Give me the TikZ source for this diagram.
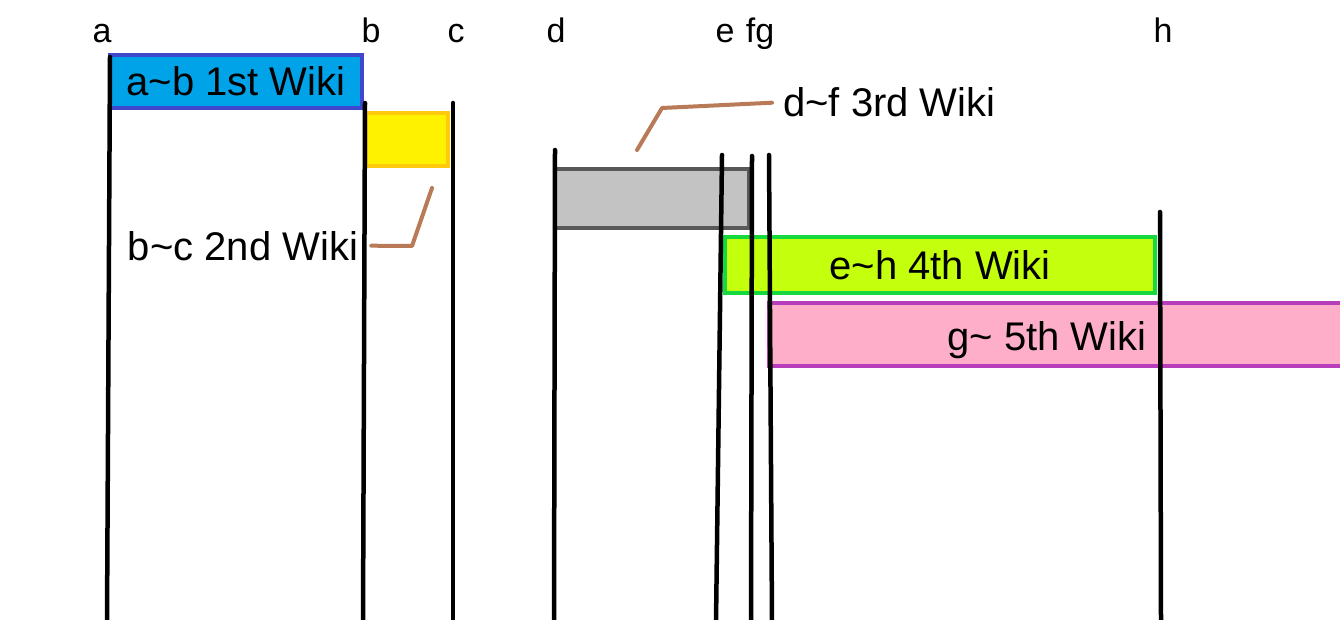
\documentclass[tikz,border=0pt]{standalone}
\usepackage{fontspec}
\setmainfont{Liberation Sans}
\usetikzlibrary{positioning}

\definecolor{oneFill}{HTML}{00A2E8}
\definecolor{oneLine}{HTML}{3F48CC}
\definecolor{twoFill}{HTML}{FFF200}
\definecolor{twoLine}{HTML}{FFC90E}
\definecolor{threeFill}{HTML}{C3C3C3}
\definecolor{threeLine}{HTML}{585858}
\definecolor{fourFill}{HTML}{C4FF0E}
\definecolor{fourLine}{HTML}{15D93F}
\definecolor{fiveFill}{HTML}{FFAEC9}
\definecolor{fiveLine}{HTML}{B83DBA}
\definecolor{leadBrown}{HTML}{B97A57}

\newcommand{\wikifont}{\fontsize{40}{46}\selectfont}

\begin{document}
\begin{tikzpicture}[x=1pt, y=-1pt,
    bar/.style={draw, line width=4pt, inner sep=0pt, font=\wikifont},
    wiki/.style={inner sep=0pt, font=\wikifont},
    tick/.style={inner sep=0pt, anchor=base, font=\fontsize{34}{40}\selectfont},
    vline/.style={line width=4.5pt, line cap=round},
    leader/.style={line width=4pt, leadBrown, line cap=round, line join=round}
]
\useasboundingbox (0,0) rectangle (1340,620);

% wiki bars
\node[bar, draw=oneLine, fill=oneFill, minimum width=252pt, minimum height=53pt] (w1) at (236,81.5) {a\textasciitilde b 1st Wiki};
\node[bar, draw=twoLine, fill=twoFill, minimum width=82pt, minimum height=53pt] (w2) at (407,139.5) {};
\node[bar, draw=threeLine, fill=threeFill, minimum width=194pt, minimum height=59pt] (w3) at (652,198.5) {};
\node[bar, draw=fourLine, fill=fourFill, minimum width=430pt, minimum height=56pt] (w4) at (940,265) {e\textasciitilde h 4th Wiki};
\node[bar, draw=fiveLine, fill=fiveFill, minimum width=581pt, minimum height=63pt] (w5) at (1059.5,334.5) {};
\node[wiki, anchor=base] (t5) at (1047,350) {g\textasciitilde\ 5th Wiki};

% labels with leaders
\node[wiki, anchor=base] (t2) at (243,260) {b\textasciitilde c 2nd Wiki};
\node[wiki, anchor=base west] (t3) at (783,117) {d\textasciitilde f 3rd Wiki};
\coordinate (k2) at (412,246);
\coordinate (p2) at (432,188);
\coordinate (k3) at (662,108);
\coordinate (p3) at (637,150);
\draw[leader] ([xshift=13pt]t2.east) -- (k2) -- (p2);
\draw[leader] ([xshift=-11pt]t3.west) -- (k3) -- (p3);

% time marks
\node[tick] (la) at (102,43) {a};
\node[tick] (lb) at (371,43) {b};
\node[tick] (lc) at (456,43) {c};
\node[tick] (ld) at (556,43) {d};
\node[tick] (le) at (725,43) {e};
\node[tick] (lfg) at (760,43) {fg};
\node[tick] (lh) at (1163,43) {h};

\draw[vline] (110,57) -- (107,622);
\draw[vline] (365,103) -- (363,622);
\draw[vline] (453,103) -- (453,622);
\draw[vline] (555,150) -- (554,622);
\draw[vline] (722,155) -- (716,622);
\draw[vline] (752,156) -- (751,622);
\draw[vline] (769,155) -- (772,622);
\draw[vline] (1160,212) -- (1161,622);
\end{tikzpicture}
\end{document}
